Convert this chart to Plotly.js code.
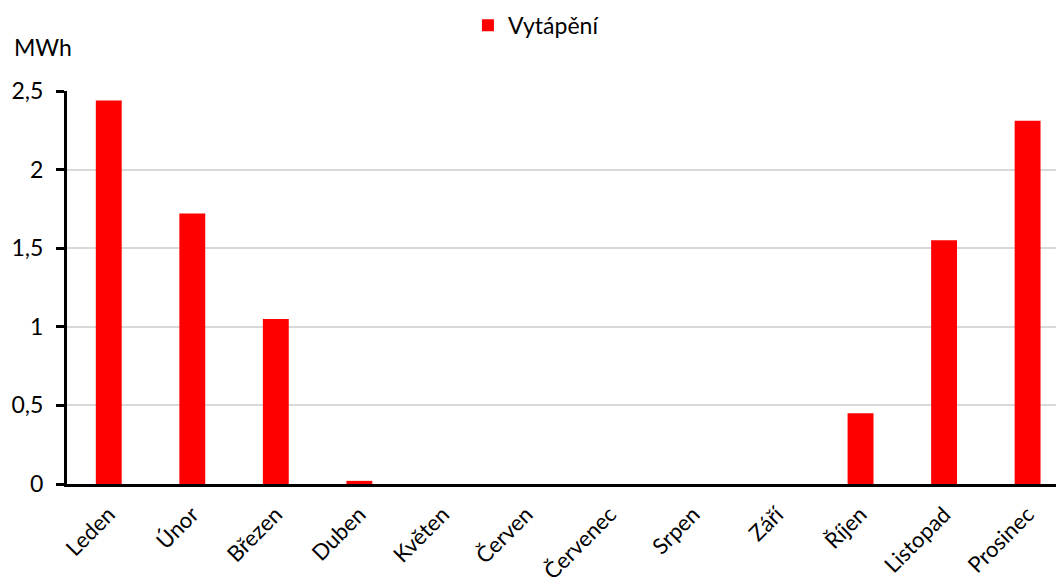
<!DOCTYPE html>
<html><head><meta charset="utf-8">
<script src="https://cdn.plot.ly/plotly-3.0.1.min.js"></script>
<style>html,body{margin:0;padding:0;background:#fff}#c{width:1056px;height:586px}</style>
</head><body><div id="c"></div>
<script>
const months = ['Leden','Únor','Březen','Duben','Květen','Červen','Červenec','Srpen','Září','Říjen','Listopad','Prosinec'];
const heating = [2.44, 1.72, 1.05, 0.02, 0, 0, 0, 0, 0, 0.45, 1.55, 2.31];
const seriesName = 'Vytápění';
const yTicks = [0, 0.5, 1, 1.5, 2, 2.5];
const yTickText = ['0', '0,5', '1', '1,5', '2', '2,5'];

const F = 'Lato, "Open Sans", sans-serif';
const FS = 23;
Plotly.newPlot('c', [{
  type: 'bar', x: months, y: heating, name: seriesName,
  marker: {color: '#ff0000'}, width: 0.31, showlegend: true
}], {
  width: 1056, height: 586,
  margin: {l: 67, r: 0, t: 91, b: 102, pad: 0, autoexpand: false},
  paper_bgcolor: '#fff', plot_bgcolor: '#fff',
  font: {family: F, size: FS, color: '#000'},
  showlegend: true,
  legend: {orientation: 'h', xref: 'container', x: 0.508, xanchor: 'center', yref: 'container', y: 0.957, yanchor: 'middle',
           font: {family: F, size: FS}, itemwidth: 30},
  xaxis: {type: 'category', range: [-0.5, 11.34], tickangle: -45, showgrid: false, automargin: false,
          showline: true, linecolor: '#000', linewidth: 3, ticks: '', ticklabelstandoff: 6, tickfont: {family: F, size: 22}},
  yaxis: {range: [0, 2.5], tickvals: yTicks, ticktext: yTickText, showgrid: true, gridcolor: '#d9d9d9', gridwidth: 2,
          automargin: false, showline: true, linecolor: '#000', linewidth: 3, ticks: 'outside', ticklen: 8, tickwidth: 3,
          tickcolor: '#000', zeroline: false, ticklabelstandoff: 8, tickfont: {family: F, size: FS}},
  annotations: [{text: 'MWh', xref: 'paper', yref: 'paper', x: -0.056, y: 1.112, xanchor: 'left', yanchor: 'middle',
                 showarrow: false, font: {family: F, size: FS}}]
}, {staticPlot: true});
</script></body></html>
